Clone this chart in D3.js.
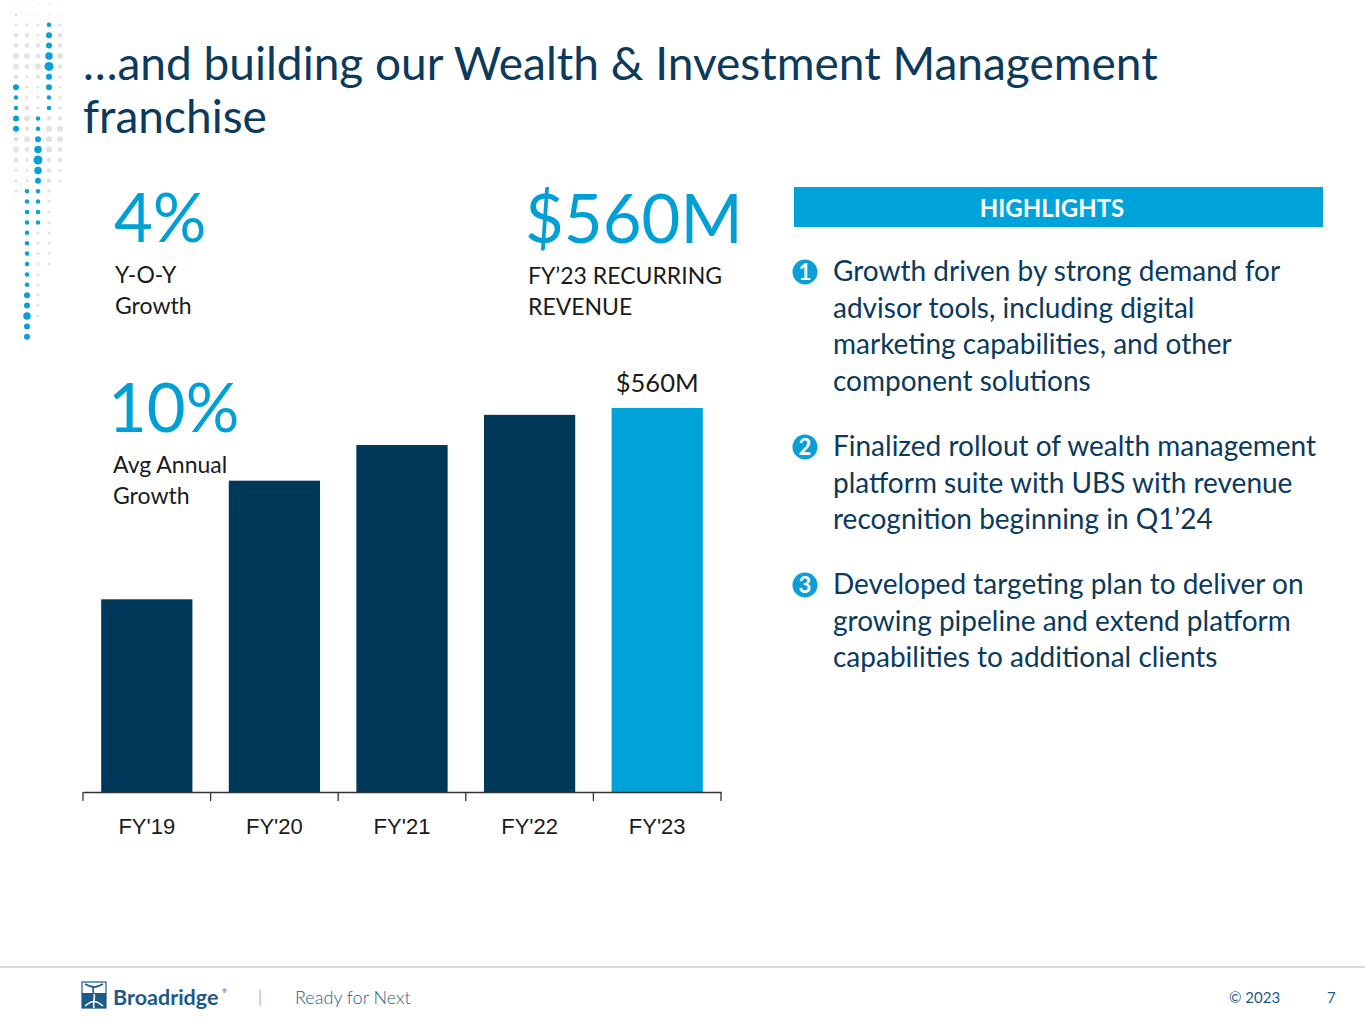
<!DOCTYPE html>
<html lang="en">
<head>
  <meta charset="UTF-8">
  <title>Wealth &amp; Investment Management</title>
  <script src="https://d3js.org/d3.v7.min.js"></script>
  <style>
    body { margin: 0; background: #fff; }
    svg { display: block; font-family: Lato, "Open Sans", sans-serif; }
    .title { font-size: 46px; fill: #0b3a5c; }
    .kpi { font-size: 67px; fill: #00a0d6; }
    .kpi-sub { font-size: 23px; fill: #1a1a1a; }
    .bullet { font-size: 28px; fill: #0b3a5c; }
    .tick-label { font-size: 22px; fill: #1a1a1a; }
  </style>
</head>
<body>

<svg width="1365" height="1024"></svg>

<script>
  // chart data
  const years = ["FY'19", "FY'20", "FY'21", "FY'22", "FY'23"];
  const revenue = [281, 454, 506, 550, 560];   // $M
  const highlightIndex = 4;
  const barLabel = "$560M";

  const bullets = [
    ["Growth driven by strong demand for", "advisor tools, including digital",
     "marketing capabilities, and other", "component solutions"],
    ["Finalized rollout of wealth management", "platform suite with UBS with revenue",
     "recognition beginning in Q1\u201924"],
    ["Developed targeting plan to deliver on", "growing pipeline and extend platform",
     "capabilities to additional clients"]
  ];

  // decorative dot strip, one string per column, digit = dot size per row
  const dotCols = [
    "122334434334434322211000000000000",
    "112334322234343222333333333344544",
    "112233432223345654333322222222200",
    "113445644333444333222222220000000",
    "112334322223443322000000000000000"
  ];
  const dotBlue = [[8, 12], [18, 32], [11, 21], [2, 10], [-1, -1]];

  const navy = "#003859";
  const cyan = "#00a3d7";

  const svg = d3.select("svg");

  // dots
  dotCols.forEach((col, c) => {
    col.split("").forEach((d, r) => {
      if (d === "0") return;
      const blue = r >= dotBlue[c][0] && r <= dotBlue[c][1];
      svg.append("circle")
        .attr("cx", 16 + c * 11)
        .attr("cy", 4 + r * 10.4)
        .attr("r", +d * 0.75)
        .attr("fill", blue ? "#0a9fd6" : "#e2e2e2");
    });
  });

  // title
  svg.append("text").attr("class", "title").attr("x", 83).attr("y", 80)
    .text("\u2026and building our Wealth & Investment Management");
  svg.append("text").attr("class", "title").attr("x", 83).attr("y", 133)
    .text("franchise");

  // KPIs
  function kpi(x, y, big, lines, dx) {
    svg.append("text").attr("class", "kpi").attr("x", x).attr("y", y).text(big);
    lines.forEach((t, i) => {
      svg.append("text").attr("class", "kpi-sub")
        .attr("x", x + dx).attr("y", y + 41 + i * 31).text(t);
    });
  }
  kpi(114, 242, "4%", ["Y-O-Y", "Growth"], 1);
  kpi(525, 243, "$560M", ["FY\u201923 RECURRING", "REVENUE"], 3);
  kpi(108, 432, "10%", ["Avg Annual", "Growth"], 5);

  // bar chart
  const x = d3.scaleBand()
    .domain(years)
    .range([83, 721])
    .paddingInner(0.285)
    .paddingOuter(0.1425);

  const y = d3.scaleLinear()
    .domain([0, 560])
    .range([792, 408]);

  svg.append("g").selectAll("rect")
    .data(years)
    .join("rect")
    .attr("x", d => x(d))
    .attr("y", (d, i) => y(revenue[i]))
    .attr("width", x.bandwidth())
    .attr("height", (d, i) => y(0) - y(revenue[i]))
    .attr("fill", (d, i) => i === highlightIndex ? cyan : navy);

  svg.append("text")
    .attr("x", x(years[highlightIndex]) + x.bandwidth() / 2)
    .attr("y", y(revenue[highlightIndex]) - 16)
    .attr("text-anchor", "middle")
    .style("font-size", "25.5px")
    .attr("fill", "#1a1a1a")
    .text(barLabel);

  // axis: labels from d3 axis, ticks on band edges
  const axis = svg.append("g")
    .attr("transform", `translate(0,${y(0)})`)
    .call(d3.axisBottom(x).tickSize(0).tickPadding(26));
  axis.select(".domain").attr("stroke", "#333").attr("stroke-width", 1.3);
  axis.selectAll("text").attr("class", "tick-label")
    .style("font-family", null).attr("font-size", null).attr("fill", null);

  const edges = years.map(d => x(d) - x.step() * x.paddingInner() / 2)
    .concat([x.range()[1]]);
  edges[0] = x.range()[0];
  axis.selectAll(".edge")
    .data(edges)
    .join("line")
    .attr("x1", d => d).attr("x2", d => d)
    .attr("y1", 0).attr("y2", 9)
    .attr("stroke", "#333").attr("stroke-width", 1.3);

  // highlights panel
  svg.append("rect").attr("x", 794).attr("y", 187).attr("width", 529).attr("height", 40)
    .attr("fill", "#00a3d9");
  svg.append("text").attr("x", 1052).attr("y", 217).attr("text-anchor", "middle")
    .attr("fill", "#fff").style("font-size", "24px").style("font-weight", 700)
    .text("HIGHLIGHTS");

  const bulletTops = [281, 456, 594];
  bullets.forEach((lines, b) => {
    const g = svg.append("g");
    g.append("circle").attr("cx", 805).attr("cy", bulletTops[b] - 9).attr("r", 12.5)
      .attr("fill", "#0a9fd6");
    g.append("text").attr("x", 805).attr("y", bulletTops[b] - 1)
      .attr("text-anchor", "middle").attr("fill", "#fff")
      .style("font-size", "22px").style("font-weight", 700).text(b + 1);
    lines.forEach((t, i) => {
      g.append("text").attr("class", "bullet")
        .attr("x", 833).attr("y", bulletTops[b] + i * 36.5).text(t);
    });
  });

  // footer
  svg.append("line").attr("x1", 0).attr("x2", 1365).attr("y1", 967).attr("y2", 967)
    .attr("stroke", "#cfcfcf").attr("stroke-width", 1.5);

  const logo = svg.append("g").attr("transform", "translate(82,982)");
  logo.append("rect").attr("width", 24).attr("height", 26).attr("fill", "#fff")
    .attr("stroke", "#1d5a87").attr("stroke-width", 1.2);
  logo.append("rect").attr("y", 11).attr("width", 24).attr("height", 15).attr("fill", "#1d5a87");
  logo.append("path")
    .attr("d", "M3,2 C10,6 14,6 21,2 M3,24 C10,18 14,18 21,24 M12,4 C8,10 16,16 12,24")
    .attr("fill", "none").attr("stroke", "#1d5a87").attr("stroke-width", 1.6);
  logo.append("path")
    .attr("d", "M3,24 C10,18 14,18 21,24 M12,12 C14,16 10,20 12,26")
    .attr("fill", "none").attr("stroke", "#fff").attr("stroke-width", 1.6);

  svg.append("text").attr("x", 113).attr("y", 1005).attr("fill", "#1d5a87")
    .style("font-size", "21.5px").style("font-weight", 700).text("Broadridge");
  svg.append("text").attr("x", 222).attr("y", 993).attr("fill", "#1d5a87")
    .style("font-size", "6px").text("\u00ae");
  svg.append("text").attr("x", 258).attr("y", 1003).attr("fill", "#bbb")
    .style("font-size", "17px").text("|");
  svg.append("text").attr("x", 295).attr("y", 1004).attr("fill", "#2b5f85")
    .style("font-size", "18px").style("font-weight", 300).text("Ready for Next");
  svg.append("text").attr("x", 1229).attr("y", 1003).attr("fill", "#1d5a87")
    .style("font-size", "15px").text("\u00a9 2023");
  svg.append("text").attr("x", 1327).attr("y", 1003).attr("fill", "#1d5a87")
    .style("font-size", "15px").text("7");
</script>

</body>
</html>
